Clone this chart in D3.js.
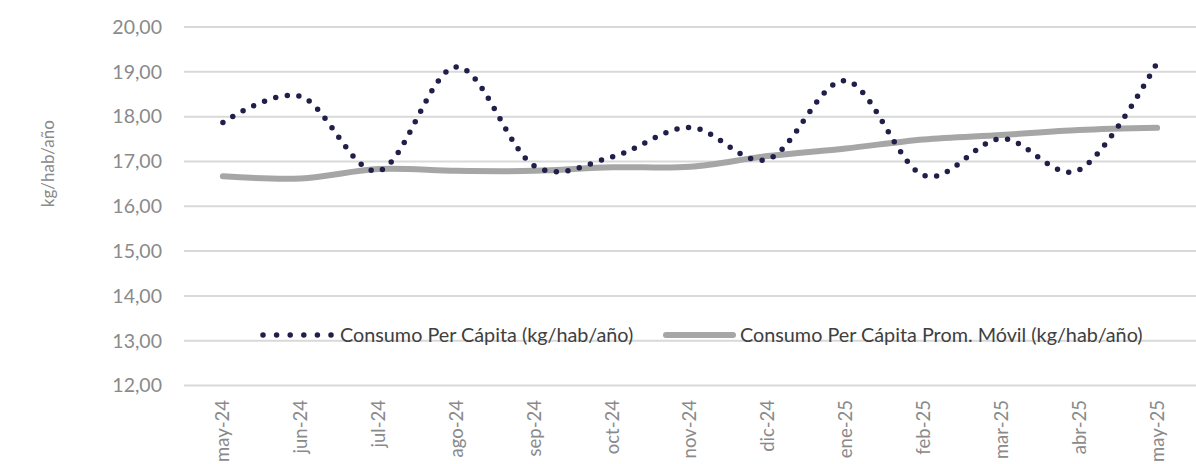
<!DOCTYPE html>
<html>
<head>
<meta charset="utf-8">
<script src="https://cdn.jsdelivr.net/npm/d3@7"></script>
<style>
  html, body { margin: 0; padding: 0; background: #fff; }
  svg { display: block; font-family: Lato, "Open Sans", sans-serif; }
</style>
</head>
<body>
<div id="canvas"><svg width="1196" height="464"></svg></div>
<script>
const months = ["may-24", "jun-24", "jul-24", "ago-24", "sep-24", "oct-24", "nov-24",
                "dic-24", "ene-25", "feb-25", "mar-25", "abr-25", "may-25"];
const perCapita = [17.87, 18.45, 16.79, 19.11, 16.9, 17.1, 17.76, 17.05, 18.8, 16.69, 17.51, 16.81, 19.2];
const movingAvg = [16.67, 16.62, 16.83, 16.79, 16.79, 16.87, 16.88, 17.12, 17.29, 17.49, 17.59, 17.7, 17.75];
const yTicks = [12, 13, 14, 15, 16, 17, 18, 19, 20];
const seriesNames = ["Consumo Per Cápita (kg/hab/año)", "Consumo Per Cápita Prom. Móvil (kg/hab/año)"];
const yTitle = "kg/hab/año";

const svg = d3.select("#canvas").select("svg");

const x = d3.scaleBand().domain(months).range([184, 1196]).padding(0);
const y = d3.scaleLinear().domain([12, 20]).range([385.5, 27]);
const cx = d => x(d) + x.bandwidth() / 2;

// gridlines
svg.append("g")
    .selectAll("line")
    .data(yTicks)
    .join("line")
    .attr("x1", 184)
    .attr("x2", 1196)
    .attr("y1", d => y(d))
    .attr("y2", d => y(d))
    .attr("stroke", "#d9d9d9")
    .attr("stroke-width", 2);

// y axis labels
const fmt = d => d3.format(".2f")(d).replace(".", ",");
svg.append("g")
    .selectAll("text")
    .data(yTicks)
    .join("text")
    .attr("x", 162)
    .attr("y", d => y(d))
    .attr("dy", "0.35em")
    .attr("text-anchor", "end")
    .attr("fill", "#8a8a8a")
    .style("font-size", "19.5px")
    .text(fmt);

svg.append("text")
    .attr("transform", "translate(48," + y(16.95) + ") rotate(-90)")
    .attr("dy", "0.35em")
    .attr("text-anchor", "middle")
    .attr("fill", "#8a8a8a")
    .style("font-size", "17px")
    .text(yTitle);

// x axis labels
svg.append("g")
    .selectAll("text")
    .data(months)
    .join("text")
    .attr("transform", d => "translate(" + cx(d) + ",400) rotate(-90)")
    .attr("dy", "0.35em")
    .attr("text-anchor", "end")
    .attr("fill", "#8a8a8a")
    .style("font-size", "18.5px")
    .text(d => d);

const line = d3.line()
    .x((d, i) => cx(months[i]))
    .y(d => y(d))
    .curve(d3.curveCardinal.tension(0));

svg.append("path")
    .attr("d", line(movingAvg))
    .attr("fill", "none")
    .attr("stroke", "#a6a6a6")
    .attr("stroke-width", 6)
    .attr("stroke-linecap", "round");

svg.append("path")
    .attr("d", line(perCapita))
    .attr("fill", "none")
    .attr("stroke", "#1f1f4a")
    .attr("stroke-width", 5.5)
    .attr("stroke-linecap", "round")
    .attr("stroke-dasharray", "0 11.7");

// legend
const legend = svg.append("g").attr("transform", "translate(0,335)");
legend.append("line")
    .attr("x1", 263).attr("x2", 332)
    .attr("stroke", "#1f1f4a")
    .attr("stroke-width", 5.5)
    .attr("stroke-linecap", "round")
    .attr("stroke-dasharray", "0 13.6");
legend.append("text")
    .attr("x", 340)
    .attr("dy", "0.35em")
    .attr("fill", "#404040")
    .style("font-size", "19.8px")
    .text(seriesNames[0]);
legend.append("line")
    .attr("x1", 666).attr("x2", 733)
    .attr("stroke", "#a6a6a6")
    .attr("stroke-width", 6)
    .attr("stroke-linecap", "round");
legend.append("text")
    .attr("x", 740)
    .attr("dy", "0.35em")
    .attr("fill", "#404040")
    .style("font-size", "19.8px")
    .text(seriesNames[1]);
</script>
</body>
</html>
